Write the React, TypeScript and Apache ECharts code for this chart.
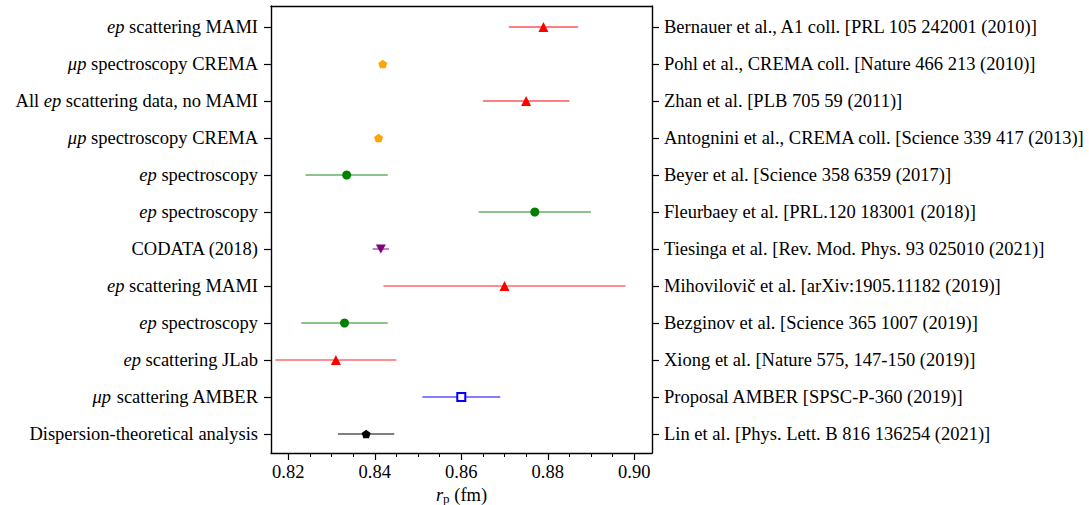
import React, { useEffect, useRef } from "react";
import * as echarts from "echarts";

const leftLabels = [
  "{i|ep} scattering MAMI",
  "{i|μp} spectroscopy CREMA",
  "All {i|ep} scattering data, no MAMI",
  "{i|μp} spectroscopy CREMA",
  "{i|ep} spectroscopy",
  "{i|ep} spectroscopy",
  "CODATA (2018)",
  "{i|ep} scattering MAMI",
  "{i|ep} spectroscopy",
  "{i|ep} scattering JLab",
  "{i|μp} scattering AMBER",
  "Dispersion-theoretical analysis",
];

const rightLabels = [
  "Bernauer et al., A1 coll. [PRL 105 242001 (2010)]",
  "Pohl et al., CREMA coll. [Nature 466 213 (2010)]",
  "Zhan et al. [PLB 705 59 (2011)]",
  "Antognini et al., CREMA coll. [Science 339 417 (2013)]",
  "Beyer et al. [Science 358 6359 (2017)]",
  "Fleurbaey et al. [PRL.120 183001 (2018)]",
  "Tiesinga et al. [Rev. Mod. Phys. 93 025010 (2021)]",
  "Mihovilovič et al. [arXiv:1905.11182 (2019)]",
  "Bezginov et al. [Science 365 1007 (2019)]",
  "Xiong et al. [Nature 575, 147-150 (2019)]",
  "Proposal AMBER [SPSC-P-360 (2019)]",
  "Lin et al. [Phys. Lett. B 816 136254 (2021)]",
];

const radii = [0.879, 0.84184, 0.875, 0.84087, 0.8335, 0.877, 0.8414, 0.87, 0.833, 0.831, 0.86, 0.838];
const errors = [0.008, 0.00067, 0.01, 0.00039, 0.0095, 0.013, 0.0019, 0.028, 0.01, 0.014, 0.009, 0.0065];

const xMajorTicks = [0.82, 0.84, 0.86, 0.88, 0.9];
const xMinorTicks = [0.82, 0.825, 0.83, 0.835, 0.84, 0.845, 0.85, 0.855, 0.86, 0.865, 0.87, 0.875, 0.88, 0.885, 0.89, 0.895, 0.9];

// styles (not data)
const PENT = "path://M0,-1 L0.951,-0.309 L0.588,0.809 L-0.588,0.809 L-0.951,-0.309 Z";
const markerStyles = [
  { symbol: "triangle", size: [10, 10], color: "#ff0000", rotate: 0 },
  { symbol: PENT, size: [9, 8.5], color: "#ffa500", rotate: 0 },
  { symbol: "triangle", size: [10, 10], color: "#ff0000", rotate: 0 },
  { symbol: PENT, size: [9, 8.5], color: "#ffa500", rotate: 0 },
  { symbol: "circle", size: 9, color: "#008000", rotate: 0 },
  { symbol: "circle", size: 9, color: "#008000", rotate: 0 },
  { symbol: "triangle", size: [10, 9], color: "#800080", rotate: 180 },
  { symbol: "triangle", size: [10, 10], color: "#ff0000", rotate: 0 },
  { symbol: "circle", size: 9, color: "#008000", rotate: 0 },
  { symbol: "triangle", size: [10, 10], color: "#ff0000", rotate: 0 },
  { symbol: "rect", size: 8, color: "none", stroke: "#0000ff", rotate: 0 },
  { symbol: PENT, size: [9, 8.5], color: "#000000", rotate: 0 },
];
const barStyles = [
  { color: "#ff0000", width: 1 },
  { color: "#ffa500", width: 1 },
  { color: "#ff0000", width: 1 },
  { color: "#ffa500", width: 1 },
  { color: "#1a8a1a", width: 1.2 },
  { color: "#1a8a1a", width: 1.2 },
  { color: "#a060a8", width: 1.5 },
  { color: "#ff6a6a", width: 1.5 },
  { color: "#66b066", width: 1.5 },
  { color: "#ff6a6a", width: 1.5 },
  { color: "#8080ff", width: 2 },
  { color: "#808080", width: 2 },
];

const N = radii.length;
const rowValues = Array.from({ length: N }, (_, k) => k);
const FONT = "Liberation Serif";
const FS = 18.5;

export default function App() {
  const ref = useRef<HTMLDivElement>(null);
  useEffect(() => {
    const chart = echarts.init(ref.current!, undefined, { renderer: "svg" });
    const errData = radii.map((r, i) => [N - 1 - i, r - errors[i], r + errors[i], i]);
    const pointData = radii.map((r, i) => {
      const m = markerStyles[i] as any;
      return {
        value: [r, N - 1 - i],
        symbol: m.symbol,
        symbolSize: m.size,
        symbolRotate: m.rotate,
        itemStyle: m.stroke
          ? { color: "#ffffff", borderColor: m.stroke, borderWidth: 2, opacity: 1 }
          : { color: m.color, opacity: 1 },
      };
    });
    const axisLine = { show: true, onZero: false, lineStyle: { color: "#000", width: 1.4 } };
    const commonX = {
      type: "value",
      min: 0.816,
      max: 0.9041,
      splitLine: { show: false },
    };
    const commonY = {
      type: "value",
      min: -0.514,
      max: 11.568,
      splitLine: { show: false },
      axisLine,
    };
    chart.setOption({
      animation: false,
      textStyle: { fontFamily: FONT },
      grid: { left: 271, right: 437, top: 6, bottom: 52, containLabel: false, outerBoundsMode: "none" },
      xAxis: [
        {
          ...commonX,
          position: "bottom",
          axisLine,
          axisTick: { show: true, length: 7, inside: false, customValues: xMajorTicks, lineStyle: { color: "#000", width: 1.2 } },
          axisLabel: {
            customValues: xMajorTicks,
            formatter: (v: number) => v.toFixed(2),
            fontFamily: FONT,
            fontSize: FS,
            color: "#000",
            margin: 9,
          },
          name: "{i|r}{s|p} (fm)",
          nameLocation: "middle",
          nameGap: 30,
          nameTextStyle: {
            fontFamily: FONT,
            fontSize: FS,
            color: "#000",
            rich: {
              i: { fontFamily: FONT, fontSize: FS, fontStyle: "italic", color: "#000" },
              s: { fontFamily: FONT, fontSize: 13, color: "#000", padding: [7, 0, 0, 0] },
            },
          },
        },
        {
          ...commonX,
          position: "bottom",
          axisLine: { show: false, onZero: false },
          axisTick: { show: true, length: 4, customValues: xMinorTicks, lineStyle: { color: "#000", width: 1 } },
          axisLabel: { show: false },
        },
        {
          ...commonX,
          position: "top",
          axisLine,
          axisTick: { show: false },
          axisLabel: { show: false },
        },
      ],
      yAxis: [
        {
          ...commonY,
          position: "left",
          axisTick: { show: true, length: 7, customValues: rowValues, lineStyle: { color: "#000", width: 1.2 } },
          axisLabel: {
            customValues: rowValues,
            formatter: (v: number) => leftLabels[N - 1 - Math.round(v)],
            fontFamily: FONT,
            fontSize: FS,
            color: "#000",
            margin: 13,
            rich: {
              i: { fontFamily: FONT, fontSize: FS, fontStyle: "italic", color: "#000" },
            },
          },
        },
        {
          ...commonY,
          position: "right",
          axisTick: { show: true, length: 7, customValues: rowValues, lineStyle: { color: "#000", width: 1.2 } },
          axisLabel: {
            customValues: rowValues,
            formatter: (v: number) => rightLabels[N - 1 - Math.round(v)],
            fontFamily: FONT,
            fontSize: FS,
            color: "#000",
            margin: 12,
          },
        },
      ],
      series: [
        {
          type: "custom",
          xAxisIndex: 0,
          yAxisIndex: 0,
          data: errData,
          encode: { x: [1, 2], y: 0 },
          renderItem: (params: any, api: any) => {
            const y = api.value(0);
            const lo = api.coord([api.value(1), y]);
            const hi = api.coord([api.value(2), y]);
            const st = barStyles[api.value(3)];
            return {
              type: "line",
              shape: { x1: lo[0], y1: lo[1], x2: hi[0], y2: hi[1] },
              style: { stroke: st.color, lineWidth: st.width },
            };
          },
          z: 1,
        },
        {
          type: "scatter",
          xAxisIndex: 0,
          yAxisIndex: 0,
          data: pointData,
          z: 2,
        },
      ],
    });
    return () => chart.dispose();
  }, []);
  return (
    <div
      ref={ref}
      style={{ position: "fixed", left: 0, top: 0, width: 1089, height: 505, background: "#fff" }}
    />
  );
}
